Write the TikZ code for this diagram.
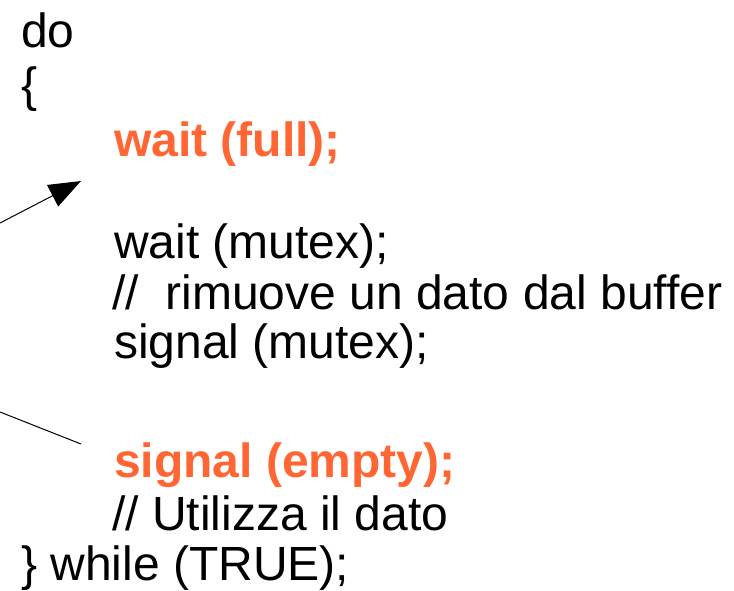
\documentclass[tikz,border=0pt]{standalone}
\usepackage{fontspec}
\setmainfont{Liberation Sans}
\usetikzlibrary{arrows.meta}
\definecolor{hl}{HTML}{FF6633}
\begin{document}
\begin{tikzpicture}[x=1pt,y=1pt,
  code/.style={anchor=base west,inner sep=0pt,font=\fontsize{48}{54}\selectfont},
  hot/.style={code,text=hl,font=\fontsize{48}{54}\selectfont\bfseries},
  pointer/.style={line width=1pt,black}]
\useasboundingbox (0,0) rectangle (734,-590);
\node[code] (l1) at (21,-47) {do};
\node[code] (l2) at (21,-101) {\{};
\node[hot] (l3) at (114,-156) {wait (full);};
\node[code] (l5) at (114,-258) {wait (mutex);};
\node[code] (l6) at (112,-309) {//\ \ rimuove un dato dal buffer};
\node[code] (l7) at (114,-358) {signal (mutex);};
\node[hot] (l9) at (114,-477) {signal (empty);};
\node[code] (l10) at (112,-530) {// Utilizza il dato};
\node[code] (l11) at (21,-580) {\} while (TRUE);};
\coordinate (a1s) at (0,-223);
\coordinate (a1e) at (81,-181);
\coordinate (a2s) at (0,-412);
\coordinate (a2e) at (81,-444);
\draw[pointer,-{Triangle[length=32pt,width=24pt]}] (a1s) -- (a1e);
\draw[pointer] (a2s) -- (a2e);
\end{tikzpicture}
\end{document}
